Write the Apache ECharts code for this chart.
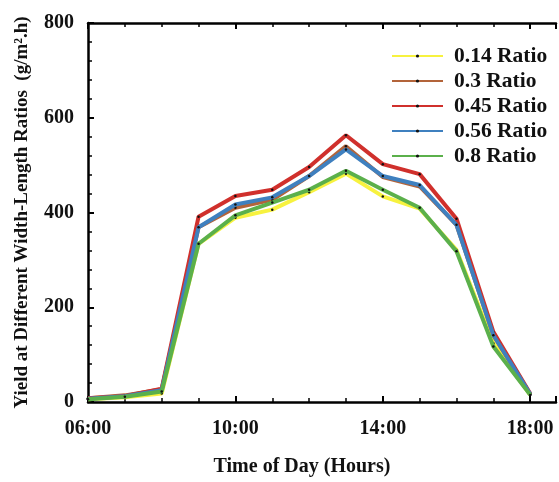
<!DOCTYPE html>
<html>
<head>
<meta charset="utf-8">
<script src="https://cdn.jsdelivr.net/npm/echarts@6/dist/echarts.min.js"></script>
<style>
  html, body { margin: 0; padding: 0; background: #fff; }
  #chart { width: 559px; height: 482px; }
</style>
</head>
<body>
<div id="chart"></div>
<script>
// Hourly yield for each width-to-length ratio
const hours = [6, 7, 8, 9, 10, 11, 12, 13, 14, 15, 16, 17, 18];
const ratio014 = [6, 10, 18, 334, 389, 406, 443, 482, 434, 408, 321, 124, 15];
const ratio030 = [8, 14, 27, 369, 410, 427, 477, 540, 475, 455, 374, 141, 16];
const ratio045 = [8, 12, 28, 391, 435, 448, 496, 563, 502, 481, 387, 148, 18];
const ratio056 = [7, 12, 25, 369, 417, 432, 477, 533, 477, 458, 374, 141, 17];
const ratio080 = [6, 11, 22, 334, 394, 421, 448, 488, 448, 410, 318, 117, 15];

const seriesNames = ['0.14 Ratio', '0.3 Ratio', '0.45 Ratio', '0.56 Ratio', '0.8 Ratio'];
const seriesValues = [ratio014, ratio030, ratio045, ratio056, ratio080];
const seriesColors = ['#f7f23f', '#b3643a', '#d0302c', '#3f80bf', '#5bb04b'];

const FONT = '"Liberation Serif", "Times New Roman", serif';

function hourLabel(v) {
  if ((v - 6) % 4 !== 0 || v > 18) return '';
  return (v < 10 ? '0' : '') + v + ':00';
}

const chart = echarts.init(document.getElementById('chart'));

const xCommon = {
  type: 'value',
  min: 6,
  max: 18.7,
  interval: 4,
  splitLine: { show: false },
  axisLine: { show: true, lineStyle: { color: '#000', width: 2.5 } },
  axisTick: { show: true, inside: true, length: 6, lineStyle: { color: '#000', width: 2 } },
  minorTick: { show: true, splitNumber: 4, length: 4, lineStyle: { color: '#000', width: 1.5 } },
  minorSplitLine: { show: false }
};

chart.setOption({
  animation: false,
  backgroundColor: '#fff',
  grid: { left: 88, right: 0, top: 23, bottom: 74 },
  legend: {
    orient: 'vertical',
    left: 391,
    top: 45,
    padding: 0,
    itemWidth: 51,
    itemHeight: 4,
    itemGap: 3,
    textStyle: { fontFamily: FONT, fontWeight: 'bold', fontSize: 21.5, color: '#111', padding: [0, 0, 0, 6] },
    data: seriesNames
  },
  xAxis: [
    Object.assign({}, xCommon, {
      position: 'bottom',
      name: 'Time of Day (Hours)',
      nameLocation: 'middle',
      nameGap: 55,
      nameTextStyle: {
        fontFamily: FONT, fontWeight: 'bold', fontSize: 20, color: '#111',
        padding: [0, 40, 0, 0]
      },
      axisLabel: {
        fontFamily: FONT, fontWeight: 'bold', fontSize: 20, color: '#111',
        margin: 17, formatter: hourLabel
      }
    }),
    Object.assign({}, xCommon, {
      position: 'top',
      axisLabel: { show: false }
    })
  ],
  yAxis: {
    type: 'value',
    min: 0,
    max: 800,
    interval: 200,
    name: 'Yield at Different Width-Length Ratios  (g/m\u00B2.h)',
    nameLocation: 'middle',
    nameGap: 56,
    nameTextStyle: { fontFamily: FONT, fontWeight: 'bold', fontSize: 19, color: '#111' },
    splitLine: { show: false },
    axisLine: { show: true, lineStyle: { color: '#000', width: 2.5 } },
    axisTick: { show: true, inside: true, length: 6, lineStyle: { color: '#000', width: 2 } },
    minorTick: { show: true, splitNumber: 5, length: 4, lineStyle: { color: '#000', width: 1.5 } },
    axisLabel: { fontFamily: FONT, fontWeight: 'bold', fontSize: 20, color: '#111', margin: 14 }
  },
  series: seriesNames.map((name, i) => ({
    name: name,
    type: 'line',
    xAxisIndex: 0,
    data: hours.map((h, j) => [h, seriesValues[i][j]]),
    symbol: 'circle',
    symbolSize: 2.5,
    showSymbol: true,
    itemStyle: { color: '#111' },
    lineStyle: { color: seriesColors[i], width: 4 },
    emphasis: { disabled: true },
    z: 2 + i
  }))
});
</script>
</body>
</html>
